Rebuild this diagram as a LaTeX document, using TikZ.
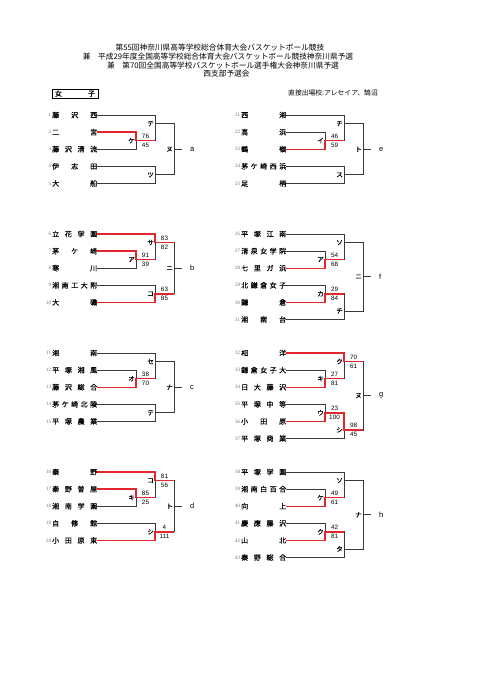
\documentclass[tikz,border=0pt]{standalone}
\usepackage{fontspec}
\setmainfont{Liberation Sans}
\newfontfamily\jp[FakeBold=0.35]{Noto Sans CJK JP}
\newfontfamily\jpt{Noto Sans CJK JP}
\newfontfamily\nsr{Liberation Serif}
\usepackage{tikz}
\usetikzlibrary{calc}
\definecolor{lnx}{HTML}{3A3A3A}
\definecolor{redx}{HTML}{E3262B}
\definecolor{nox}{HTML}{707070}
\newcommand{\nb}[1]{\makebox[45pt][s]{#1}}
\tikzset{
  ln/.style={lnx,line width=0.75pt},
  rd/.style={redx,line width=1.3pt},
  nm/.style={anchor=west,inner sep=0pt,font=\jp\fontsize{7}{8}\selectfont},
  no/.style={anchor=east,inner sep=0.8pt,font=\nsr\fontsize{5}{5}\selectfont,nox},
  ml/.style={anchor=east,inner sep=1pt,font=\jp\fontsize{6.5}{7}\selectfont},
  sc/.style={inner sep=0pt,font=\fontsize{6.3}{7}\selectfont},
  su/.style={sc,xshift=9.5pt,yshift=4.7pt},
  sd/.style={sc,xshift=9.5pt,yshift=-4.7pt},
  lt/.style={anchor=west,inner sep=0pt,font=\fontsize{7.5}{8}\selectfont},
  tt/.style={inner sep=0pt,font=\jpt\fontsize{7.7}{9}\selectfont}
}
\begin{document}
\begin{tikzpicture}[x=1pt,y=-1pt]
\fill[white] (0,0) rectangle (481,680);
\useasboundingbox (0,0) rectangle (481,680);
\node[tt] (h1) at (220,48) {第55回神奈川県高等学校総合体育大会バスケットボール競技};
\node[tt] (h2) at (218,57) {兼　平成29年度全国高等学校総合体育大会バスケットボール競技神奈川県予選};
\node[tt] (h3) at (223,65.5) {兼　第70回全国高等学校バスケットボール選手権大会神奈川県予選};
\node[tt] (h4) at (226.5,74) {西支部予選会};
\node[draw,line width=0.8pt,minimum width=46pt,minimum height=9pt,inner sep=0pt,font=\jp\fontsize{7}{8}\selectfont] (grp) at (75,93.5) {\makebox[40pt][s]{女 子}};
\node[anchor=west,inner sep=0pt,font=\jpt\fontsize{6.8}{8}\selectfont] (dq) at (288,93) {直接出場校:アレセイア、鵠沼};

\begin{scope}[yshift=-115pt,y=-17.1pt]
\node[nm] (t1) at (52,0) {\nb{藤 沢 西}};
\node[nm] (t2) at (52,1) {\nb{二 宮}};
\node[nm] (t3) at (52,2) {\nb{藤 沢 清 流}};
\node[nm] (t4) at (52,3) {\nb{伊 志 田}};
\node[nm] (t5) at (52,4) {\nb{大 船}};
\coordinate (mKe) at (136,1.5);
\coordinate (mTe) at (155,0.5);
\coordinate (mTu) at (155,3.5);
\coordinate (mNu) at (174,2);
\draw[ln] (t1.east) -| (mTe) (t2.east) -| (mKe) (t3.east) -| (mKe) (mKe) -| (mTe)
  (t4.east) -| (mTu) (t5.east) -| (mTu) (mTe) -| (mNu) (mTu) -| (mNu) (mNu) -- ++(8,0);
\draw[rd] (t2.east) -| (mKe) -- (mKe -| mTe);
\node[ml] (lKe) at (mKe) {ケ};
\node[ml] (lTe) at (mTe) {テ};
\node[ml] (lTu) at (mTu) {ツ};
\node[ml] (lNu) at (mNu) {ヌ};
\node[su] (sKe1) at (mKe) {76};
\node[sd] (sKe2) at (mKe) {45};
\node[lt] (la) at ([xshift=16pt]mNu) {a};

\node[nm] (t21) at (241,0) {\nb{西 湘}};
\node[nm] (t22) at (241,1) {\nb{高 浜}};
\node[nm] (t23) at (241,2) {\nb{鶴 嶺}};
\node[nm] (t24) at (241,3) {\nb{茅 ケ 崎 西 浜}};
\node[nm] (t25) at (241,4) {\nb{足 柄}};
\coordinate (mI) at (325,1.5);
\coordinate (mCh) at (344,0.5);
\coordinate (mSu) at (344,3.5);
\coordinate (mTo) at (363,2);
\draw[ln] (t21.east) -| (mCh) (t22.east) -| (mI) (t23.east) -| (mI) (mI) -| (mCh)
  (t24.east) -| (mSu) (t25.east) -| (mSu) (mCh) -| (mTo) (mSu) -| (mTo) (mTo) -- ++(8,0);
\draw[rd] (t23.east) -| (mI) -- (mI -| mCh);
\node[ml] (lI) at (mI) {イ};
\node[ml] (lCh) at (mCh) {チ};
\node[ml] (lSu) at (mSu) {ス};
\node[ml] (lTo) at (mTo) {ト};
\node[su] (sI1) at (mI) {46};
\node[sd] (sI2) at (mI) {59};
\node[lt] (le) at ([xshift=16pt]mTo) {e};
\end{scope}

\begin{scope}[yshift=-234pt,y=-17.1pt]
\node[nm] (t6) at (52,0) {\nb{立 花 学 園}};
\node[nm] (t7) at (52,1) {\nb{茅 ケ 崎}};
\node[nm] (t8) at (52,2) {\nb{寒 川}};
\node[nm] (t9) at (52,3) {\nb{湘 南 工 大 附}};
\node[nm] (t10) at (52,4) {\nb{大 磯}};
\coordinate (mA) at (136,1.5);
\coordinate (mSa) at (155,0.5);
\coordinate (mKo) at (155,3.5);
\coordinate (mNi) at (174,2);
\draw[ln] (t6.east) -| (mSa) (t7.east) -| (mA) (t8.east) -| (mA) (mA) -| (mSa)
  (t9.east) -| (mKo) (t10.east) -| (mKo) (mSa) -| (mNi) (mKo) -| (mNi) (mNi) -- ++(8,0);
\draw[rd] (t7.east) -| (mA) -- (mA -| mSa);
\draw[rd] (t6.east) -| (mSa) -- (mSa -| mNi);
\draw[rd] (t10.east) -| (mKo) -- (mKo -| mNi);
\node[ml] (lA) at (mA) {ア};
\node[ml] (lSa) at (mSa) {サ};
\node[ml] (lKo) at (mKo) {コ};
\node[ml] (lNi) at (mNi) {ニ};
\node[su] (sA1) at (mA) {91};
\node[sd] (sA2) at (mA) {39};
\node[su] (sSa1) at (mSa) {83};
\node[sd] (sSa2) at (mSa) {82};
\node[su] (sKo1) at (mKo) {63};
\node[sd] (sKo2) at (mKo) {85};
\node[lt] (lb) at ([xshift=16pt]mNi) {b};

\node[nm] (t26) at (241,0) {\nb{平 塚 江 南}};
\node[nm] (t27) at (241,1) {\nb{清 泉 女 学 院}};
\node[nm] (t28) at (241,2) {\nb{七 里 ガ 浜}};
\node[nm] (t29) at (241,3) {\nb{北 鎌 倉 女 子}};
\node[nm] (t30) at (241,4) {\nb{鎌 倉}};
\node[nm] (t31) at (241,5) {\nb{湘 南 台}};
\coordinate (mA2) at (325,1.5);
\coordinate (mKa) at (325,3.5);
\coordinate (mSo) at (344,0.5);
\coordinate (mCh2) at (344,4.5);
\coordinate (mNi2) at (363,2.5);
\draw[ln] (t26.east) -| (mSo) (t27.east) -| (mA2) (t28.east) -| (mA2) (mA2) -| (mSo)
  (t29.east) -| (mKa) (t30.east) -| (mKa) (mKa) -| (mCh2) (t31.east) -| (mCh2)
  (mSo) -| (mNi2) (mCh2) -| (mNi2) (mNi2) -- ++(8,0);
\draw[rd] (t28.east) -| (mA2) -- (mA2 -| mSo);
\draw[rd] (t30.east) -| (mKa) -- (mKa -| mCh2);
\node[ml] (lA2) at (mA2) {ア};
\node[ml] (lKa) at (mKa) {カ};
\node[ml] (lSo) at (mSo) {ソ};
\node[ml] (lCh2) at (mCh2) {チ};
\node[ml] (lNi2) at (mNi2) {ニ};
\node[su] (sA21) at (mA2) {54};
\node[sd] (sA22) at (mA2) {68};
\node[su] (sKa1) at (mKa) {29};
\node[sd] (sKa2) at (mKa) {84};
\node[lt] (lf) at ([xshift=16pt]mNi2) {f};
\end{scope}

\begin{scope}[yshift=-353pt,y=-17.1pt]
\node[nm] (t11) at (52,0) {\nb{湘 南}};
\node[nm] (t12) at (52,1) {\nb{平 塚 湘 風}};
\node[nm] (t13) at (52,2) {\nb{藤 沢 総 合}};
\node[nm] (t14) at (52,3) {\nb{茅 ケ 崎 北 陵}};
\node[nm] (t15) at (52,4) {\nb{平 塚 農 業}};
\coordinate (mO) at (136,1.5);
\coordinate (mSe) at (155,0.5);
\coordinate (mTe2) at (155,3.5);
\coordinate (mNa) at (174,2);
\draw[ln] (t11.east) -| (mSe) (t12.east) -| (mO) (t13.east) -| (mO) (mO) -| (mSe)
  (t14.east) -| (mTe2) (t15.east) -| (mTe2) (mSe) -| (mNa) (mTe2) -| (mNa) (mNa) -- ++(8,0);
\draw[rd] (t13.east) -| (mO) -- (mO -| mSe);
\node[ml] (lO) at (mO) {オ};
\node[ml] (lSe) at (mSe) {セ};
\node[ml] (lTe2) at (mTe2) {テ};
\node[ml] (lNa) at (mNa) {ナ};
\node[su] (sO1) at (mO) {38};
\node[sd] (sO2) at (mO) {70};
\node[lt] (lc) at ([xshift=16pt]mNa) {c};

\node[nm] (t32) at (241,0) {\nb{相 洋}};
\node[nm] (t33) at (241,1) {\nb{鎌 倉 女 子 大}};
\node[nm] (t34) at (241,2) {\nb{日 大 藤 沢}};
\node[nm] (t35) at (241,3) {\nb{平 塚 中 等}};
\node[nm] (t36) at (241,4) {\nb{小 田 原}};
\node[nm] (t37) at (241,5) {\nb{平 塚 商 業}};
\coordinate (mKi) at (325,1.5);
\coordinate (mU) at (325,3.5);
\coordinate (mKu) at (344,0.5);
\coordinate (mSh) at (344,4.5);
\coordinate (mNu2) at (363,2.5);
\draw[ln] (t32.east) -| (mKu) (t33.east) -| (mKi) (t34.east) -| (mKi) (mKi) -| (mKu)
  (t35.east) -| (mU) (t36.east) -| (mU) (mU) -| (mSh) (t37.east) -| (mSh)
  (mKu) -| (mNu2) (mSh) -| (mNu2) (mNu2) -- ++(8,0);
\draw[rd] (t34.east) -| (mKi) -- (mKi -| mKu);
\draw[rd] (t32.east) -| (mKu) -- (mKu -| mNu2);
\draw[rd] (t36.east) -| (mU) -| (mSh) -- (mSh -| mNu2);
\node[ml] (lKi) at (mKi) {キ};
\node[ml] (lU) at (mU) {ウ};
\node[ml] (lKu) at (mKu) {ク};
\node[ml] (lSh) at (mSh) {シ};
\node[ml] (lNu2) at (mNu2) {ヌ};
\node[su] (sKi1) at (mKi) {27};
\node[sd] (sKi2) at (mKi) {81};
\node[su] (sU1) at (mU) {23};
\node[sd] (sU2) at (mU) {100};
\node[su] (sKu1) at (mKu) {70};
\node[sd] (sKu2) at (mKu) {61};
\node[su] (sSh1) at (mSh) {98};
\node[sd] (sSh2) at (mSh) {45};
\node[lt] (lg) at ([xshift=16pt]mNu2) {g};
\end{scope}

\begin{scope}[yshift=-472pt,y=-17.1pt]
\node[nm] (t16) at (52,0) {\nb{秦 野}};
\node[nm] (t17) at (52,1) {\nb{秦 野 曽 屋}};
\node[nm] (t18) at (52,2) {\nb{湘 南 学 園}};
\node[nm] (t19) at (52,3) {\nb{自 修 館}};
\node[nm] (t20) at (52,4) {\nb{小 田 原 東}};
\coordinate (mKi2) at (136,1.5);
\coordinate (mKo2) at (155,0.5);
\coordinate (mSh2) at (155,3.5);
\coordinate (mTo2) at (174,2);
\draw[ln] (t16.east) -| (mKo2) (t17.east) -| (mKi2) (t18.east) -| (mKi2) (mKi2) -| (mKo2)
  (t19.east) -| (mSh2) (t20.east) -| (mSh2) (mKo2) -| (mTo2) (mSh2) -| (mTo2) (mTo2) -- ++(8,0);
\draw[rd] (t17.east) -| (mKi2) -- (mKi2 -| mKo2);
\draw[rd] (t16.east) -| (mKo2) -- (mKo2 -| mTo2);
\draw[rd] (t20.east) -| (mSh2) -- (mSh2 -| mTo2);
\node[ml] (lKi2) at (mKi2) {キ};
\node[ml] (lKo2) at (mKo2) {コ};
\node[ml] (lSh2) at (mSh2) {シ};
\node[ml] (lTo2) at (mTo2) {ト};
\node[su] (sKi21) at (mKi2) {85};
\node[sd] (sKi22) at (mKi2) {25};
\node[su] (sKo21) at (mKo2) {81};
\node[sd] (sKo22) at (mKo2) {56};
\node[su] (sSh21) at (mSh2) {4};
\node[sd] (sSh22) at (mSh2) {111};
\node[lt] (ld) at ([xshift=16pt]mTo2) {d};

\node[nm] (t38) at (241,0) {\nb{平 塚 学 園}};
\node[nm] (t39) at (241,1) {\nb{湘 南 白 百 合}};
\node[nm] (t40) at (241,2) {\nb{向 上}};
\node[nm] (t41) at (241,3) {\nb{慶 應 藤 沢}};
\node[nm] (t42) at (241,4) {\nb{山 北}};
\node[nm] (t43) at (241,5) {\nb{秦 野 総 合}};
\coordinate (mKe2) at (325,1.5);
\coordinate (mKu2) at (325,3.5);
\coordinate (mSo2) at (344,0.5);
\coordinate (mTa) at (344,4.5);
\coordinate (mNa2) at (363,2.5);
\draw[ln] (t38.east) -| (mSo2) (t39.east) -| (mKe2) (t40.east) -| (mKe2) (mKe2) -| (mSo2)
  (t41.east) -| (mKu2) (t42.east) -| (mKu2) (mKu2) -| (mTa) (t43.east) -| (mTa)
  (mSo2) -| (mNa2) (mTa) -| (mNa2) (mNa2) -- ++(8,0);
\draw[rd] (t40.east) -| (mKe2) -- (mKe2 -| mSo2);
\draw[rd] (t42.east) -| (mKu2) -- (mKu2 -| mTa);
\node[ml] (lKe2) at (mKe2) {ケ};
\node[ml] (lKu2) at (mKu2) {ク};
\node[ml] (lSo2) at (mSo2) {ソ};
\node[ml] (lTa) at (mTa) {タ};
\node[ml] (lNa2) at (mNa2) {ナ};
\node[su] (sKe21) at (mKe2) {49};
\node[sd] (sKe22) at (mKe2) {61};
\node[su] (sKu21) at (mKu2) {42};
\node[sd] (sKu22) at (mKu2) {81};
\node[lt] (lh) at ([xshift=16pt]mNa2) {h};
\end{scope}

\foreach \i in {1,...,43}
  \node[no] (n\i) at (t\i.west) {\i};
\end{tikzpicture}
\end{document}
